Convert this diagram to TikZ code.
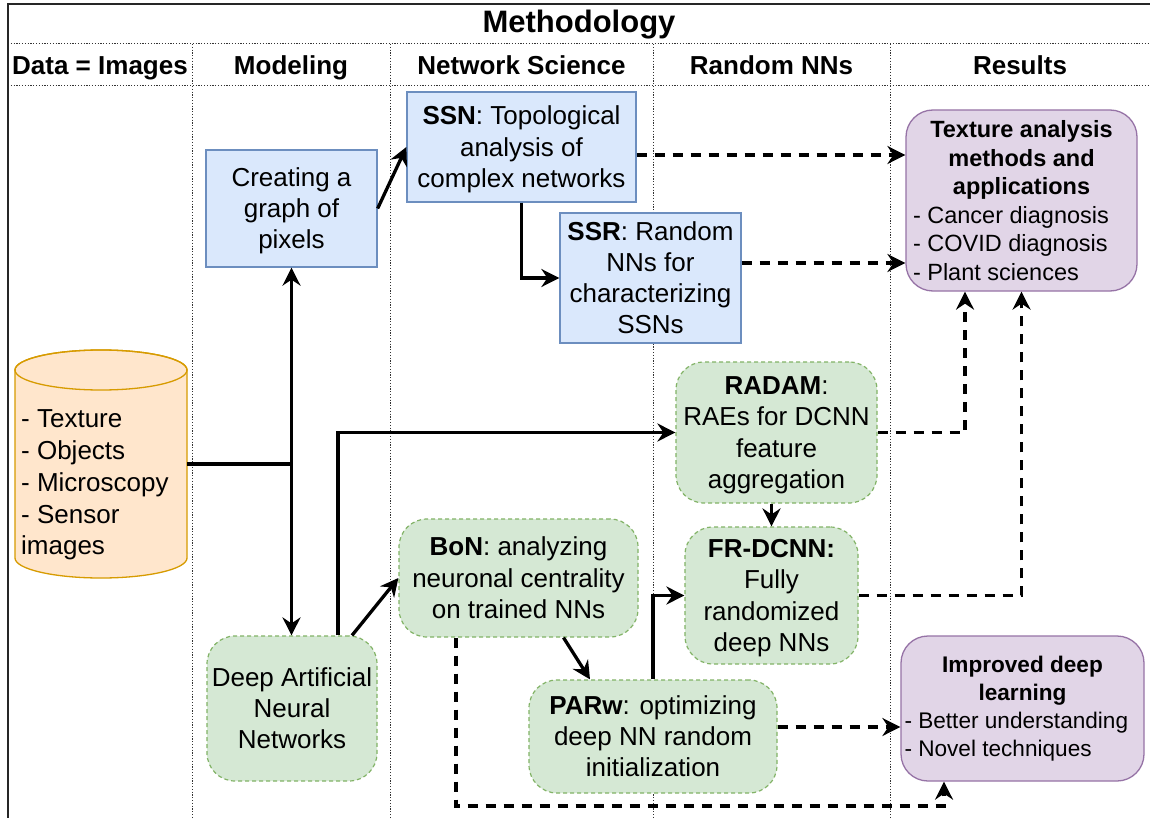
\documentclass[tikz,border=0pt]{standalone}
\usepackage{fontspec}
\setmainfont{Liberation Sans}
\usetikzlibrary{arrows.meta}
\definecolor{bluefill}{HTML}{DAE8FC}
\definecolor{blueline}{HTML}{6C8EBF}
\definecolor{greenfill}{HTML}{D5E8D4}
\definecolor{greenline}{HTML}{82B366}
\definecolor{purplefill}{HTML}{E1D5E7}
\definecolor{purpleline}{HTML}{9673A6}
\definecolor{orangefill}{HTML}{FFE6CC}
\definecolor{orangeline}{HTML}{D79B00}
\newcommand{\lnstrut}{\rule[-0.2535em]{0pt}{1.2em}}
\begin{document}
\begin{tikzpicture}[x=1pt,y=-1pt,
  nodefont/.style={font=\fontsize{26}{31.2}\selectfont},
  hdr/.style={font=\bfseries\fontsize{26}{31}\selectfont, inner sep=0pt, anchor=base},
  bluebox/.style={draw=blueline, fill=bluefill, line width=1.3pt, align=center, inner sep=0pt, nodefont},
  greenbox/.style={draw=greenline, fill=greenfill, line width=1.2pt, dash pattern=on 4pt off 3pt, rounded corners=28pt, align=center, inner sep=0pt, nodefont},
  resbox/.style={draw=purpleline, fill=purplefill, line width=1.3pt, rounded corners=27pt, inner sep=0pt},
  lane/.style={line width=1pt, black!80, dash pattern=on 1.2pt off 1.6pt},
  wire/.style={line width=3.3pt},
  conn/.style={line width=3.3pt, -{Stealth[length=18pt,width=18pt,inset=6pt]}},
  dconn/.style={conn, dash pattern=on 10pt off 8pt}
]
\useasboundingbox (0,0) rectangle (1150,818);
\fill[white] (0,0) rectangle (1150,818);

% frame and lanes
\draw[lane] (8,44) -- (1150,44);
\draw[lane] (8,86) -- (1150,86);
\foreach \xx in {192,390,653,890} \draw[lane] (\xx,44) -- (\xx,818);
\draw[line width=2pt, black!85] (8,818) -- (8,4) -- (1150,4);

% headers
\node[font=\bfseries\fontsize{31}{37}\selectfont, inner sep=0pt, anchor=base] (title) at (579,33) {Methodology};
\node[hdr] (h1) at (100,75) {Data = Images};
\node[hdr] (h2) at (291,75) {Modeling};
\node[hdr] (h3) at (521.5,75) {Network Science};
\node[hdr] (h4) at (771.5,75) {Random NNs};
\node[hdr] (h5) at (1020,75) {Results};

% cylinder
\node[minimum width=172pt, minimum height=228pt, inner sep=0pt] (cyl) at (101,464) {};
\filldraw[fill=orangefill, draw=orangeline, line width=1.3pt]
  (15,370) -- (15,558) arc[start angle=180, end angle=360, x radius=86pt, y radius=20pt]
  -- (187,370) arc[start angle=0, end angle=180, x radius=86pt, y radius=20pt] -- cycle;
\draw[orangeline, line width=1.3pt] (101,370) ellipse [x radius=86pt, y radius=20pt];
\node[font=\fontsize{26}{31.8}\selectfont, align=left, anchor=west, inner sep=0pt] (cyltxt) at (21,485)
  {- Texture\\- Objects\\- Microscopy\\- Sensor\\images};

% blue boxes
\node[bluebox, minimum width=171pt, minimum height=117pt] (creating) at (291.5,208.5) {\lnstrut Creating a\\graph of\\pixels\lnstrut};
\node[bluebox, minimum width=229pt, minimum height=110pt] (ssn) at (521.5,147) {\lnstrut\textbf{SSN}: Topological\\analysis of\\complex networks\lnstrut};
\node[bluebox, minimum width=181pt, minimum height=130pt] (ssr) at (650.5,278) {\lnstrut\textbf{SSR}: Random\\NNs for\\characterizing\\SSNs\lnstrut};

% green boxes
\node[greenbox, minimum width=201pt, minimum height=141pt] (radam) at (776.5,432.5) {\lnstrut\textbf{RADAM}:\\RAEs for DCNN\\feature\\aggregation\lnstrut};
\node[greenbox, minimum width=173pt, minimum height=137pt] (frdcnn) at (771.5,595.5) {\lnstrut\textbf{FR-DCNN:}\\Fully\\randomized\\deep NNs\lnstrut};
\node[greenbox, minimum width=239pt, minimum height=118pt] (bon) at (518.5,578) {\lnstrut\textbf{BoN}: analyzing\\neuronal centrality\\on trained NNs\lnstrut};
\node[greenbox, minimum width=248pt, minimum height=113pt] (parw) at (653,736.5) {\lnstrut\textbf{PARw}: optimizing\\deep NN random\\initialization\lnstrut};
\node[greenbox, minimum width=170pt, minimum height=145pt] (dann) at (292,708.5) {\lnstrut Deep Artificial\\Neural\\Networks\lnstrut};

% result boxes
\node[resbox, minimum width=231pt, minimum height=181pt, font=\fontsize{23.5}{28.5}\selectfont] (texture) at (1021.5,200.5)
  {\parbox{217pt}{\centering\bfseries Texture analysis\\methods and\\applications\par\raggedright\mdseries - Cancer diagnosis\\- COVID diagnosis\\- Plant sciences}};
\node[resbox, minimum width=243pt, minimum height=145pt, font=\fontsize{22.6}{28}\selectfont] (improved) at (1022.5,708.5)
  {\parbox{236pt}{\centering\bfseries Improved deep\\learning\par\raggedright\mdseries - Better understanding\\- Novel techniques}};

% connectors
\coordinate (j) at (creating.south |- cyl.east);
\draw[wire] (cyl.east) -- (j);
\draw[conn] (j) -- (creating.south);
\draw[conn] (j) -- (j |- dann.north);
\draw[conn] (creating.east) -- (ssn.west);
\draw[conn] (ssn.south) |- (ssr.west);
\draw[dconn] ([yshift=-8pt]ssn.east) -- ([yshift=-8pt]ssn.east -| texture.west);
\draw[dconn] ([yshift=15pt]ssr.east) -- ([yshift=15pt]ssr.east -| texture.west);
\draw[conn] ([xshift=46pt]dann.north) |- (radam.west);
\draw[conn] ([xshift=60pt]dann.north) -- (bon.west);
\draw[conn] (frdcnn.north |- radam.south) -- (frdcnn.north);
\draw[dconn] (radam.east) -| ([xshift=-56.5pt]texture.south);
\draw[dconn] (frdcnn.east) -| (texture.south);
\draw[conn] ([xshift=45pt]bon.south) -- ([xshift=-63pt]parw.north);
\draw[conn] (parw.north) |- (frdcnn.west);
\coordinate (bot) at (700,806);
\draw[dconn] ([xshift=-62.5pt]bon.south) |- (bot) -| ([xshift=-78.5pt]improved.south);
\draw[dconn] ([yshift=9.5pt]parw.east) -- ([yshift=9.5pt]parw.east -| improved.west);
\end{tikzpicture}
\end{document}
